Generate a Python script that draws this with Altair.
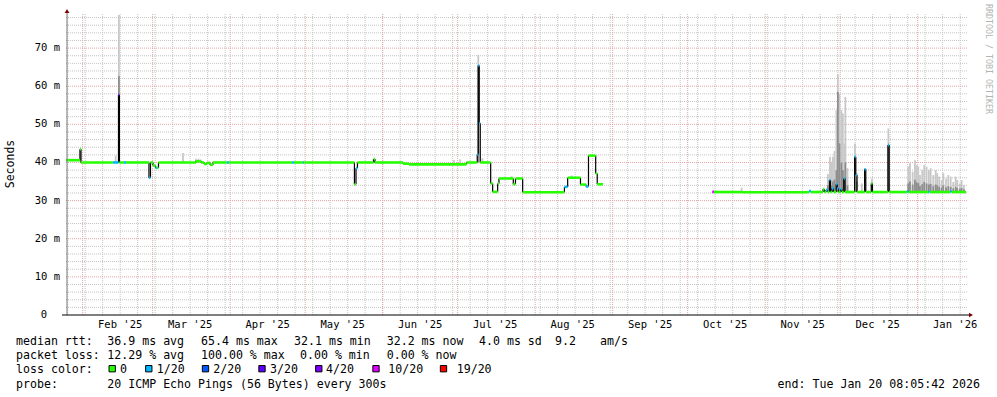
import altair as alt
import pandas as pd

# ---------------- data ----------------
START = alt.DateTime(year=2025, month=1, date=25, hours=8, minutes=5, seconds=42)
END = alt.DateTime(year=2026, month=1, date=20, hours=8, minutes=5, seconds=42)
Y_MAX = 79.2

# median rtt (ms) step breakpoints, loss bucket index
med_dates = [
    "2025-01-25T08:05", "2025-01-30T22:00", "2025-01-31T08:00", "2025-02-13T03:00", "2025-02-15T08:00", "2025-02-15T17:00",
    "2025-02-17T12:30", "2025-02-18T08:00", "2025-02-27T12:30", "2025-02-28T03:00", "2025-03-01T03:00", "2025-03-02T03:00",
    "2025-03-02T17:00", "2025-03-03T08:00", "2025-03-18T08:00", "2025-03-20T08:00", "2025-03-21T12:30", "2025-03-22T17:00",
    "2025-03-23T22:00", "2025-03-25T03:00", "2025-03-30T17:00", "2025-03-31T12:30", "2025-04-25T17:00", "2025-04-26T12:30",
    "2025-04-30T03:00", "2025-04-30T17:00", "2025-05-20T17:00", "2025-05-21T08:00", "2025-05-21T22:00", "2025-05-28T08:00",
    "2025-05-28T22:00", "2025-06-09T03:00", "2025-06-11T12:30", "2025-07-04T12:30", "2025-07-08T20:00", "2025-07-09T06:00",
    "2025-07-09T15:00", "2025-07-10T01:00", "2025-07-14T05:00", "2025-07-15T00:00", "2025-07-17T00:00", "2025-07-17T12:30",
    "2025-07-23T06:00", "2025-07-24T03:00", "2025-07-27T00:00", "2025-08-12T17:00", "2025-08-14T00:00", "2025-08-19T03:00",
    "2025-08-21T08:00", "2025-08-22T08:00", "2025-08-25T05:00", "2025-08-25T20:00", "2025-08-28T03:00",
    "2025-10-10T20:00", "2025-10-11T12:30", "2025-10-22T17:00", "2025-11-18T12:30", "2025-11-19T08:00", "2025-11-24T03:00",
    "2025-11-24T17:00", "2025-11-25T08:00", "2025-11-25T22:00", "2025-11-26T17:00", "2025-11-27T03:00", "2025-11-27T17:00",
    "2025-11-28T08:00", "2025-11-29T09:30", "2025-11-29T20:00", "2025-11-30T08:00", "2025-12-01T05:00", "2025-12-01T17:00",
    "2025-12-02T10:30", "2025-12-02T22:00", "2025-12-06T19:00", "2025-12-07T06:00", "2025-12-07T17:00", "2025-12-10T19:00",
    "2025-12-11T06:00", "2025-12-13T10:30", "2025-12-13T22:00", "2025-12-20T03:00", "2025-12-20T14:30", "2025-12-27T17:00",
    "2025-12-28T08:00", "2026-01-05T03:00", "2026-01-05T17:00", "2026-01-13T22:00", "2026-01-14T12:30", "2026-01-20T08:05",
]
med_values = [
    40.6, 43.5, 40.0, 40.0, 57.7, 40.0,
    40.0, 40.0, 36.0, 40.0, 39.2, 38.6,
    38.6, 40.0, 40.3, 40.0, 39.6, 39.9,
    39.4, 40.0, 40.0, 40.0, 40.0, 40.0,
    40.0, 40.0, 34.3, 38.5, 40.0, 40.9,
    40.0, 39.7, 39.5, 40.0, 42.1, 65.4,
    50.3, 40.0, 34.5, 32.3, 34.5, 35.8,
    34.3, 35.8, 32.2, 33.6, 36.0, 34.2,
    33.7, 41.8, 37.1, 34.3, None,
    32.3, 32.25, 32.2, 32.5, 32.25, 33.0,
    32.25, 32.8, 32.25, 35.4, 32.25, 33.2,
    32.25, 34.3, 33.2, 32.25, 33.0, 32.25,
    35.8, 32.25, 41.5, 36.7, 32.25, 38.2,
    32.25, 34.5, 32.25, 44.6, 32.25, 32.4,
    32.25, 32.3, 32.25, 32.4, 32.25, 32.25,
]
med_loss = [
    0, 0, 0, 1, 3, 0,
    1, 0, 1, 0, 0, 1,
    0, 0, 0, 0, 0, 0,
    0, 0, 1, 0, 1, 0,
    1, 0, 0, 1, 0, 0,
    0, 0, 0, 0, 1, 1,
    1, 0, 0, 0, 0, 0,
    0, 0, 0, 1, 0, 0,
    1, 0, 0, 0, 0,
    5, 0, 0, 1, 0, 0,
    0, 1, 0, 1, 0, 1,
    0, 1, 1, 0, 1, 0,
    1, 0, 1, 1, 0, 1,
    0, 0, 0, 1, 0, 1,
    0, 1, 0, 1, 0, 0,
]

# smoke (spread of the 20 pings): date, low, high, dense core top
smoke_dates = [
    "2025-02-14T05:00", "2025-02-15T12:00", "2025-03-13T03:00", "2025-03-18T08:00", "2025-03-19T08:00", "2025-03-20T08:00",
    "2025-06-29T12:00", "2025-07-02T00:00", "2025-07-09T06:00", "2025-07-10T22:00", "2025-07-22T14:00", "2025-08-15T14:00",
    "2025-10-22T14:00", "2025-11-26T02:00", "2025-11-26T22:00", "2025-11-27T12:00", "2025-11-28T02:00", "2025-11-28T17:00",
    "2025-11-29T12:00", "2025-11-30T02:00", "2025-11-30T17:00", "2025-12-01T12:00", "2025-12-02T02:00", "2025-12-02T17:00",
    "2025-12-03T02:00", "2025-12-03T22:00", "2025-12-06T22:00", "2025-12-07T17:00", "2025-12-09T17:00", "2025-12-10T22:00",
    "2025-12-13T17:00", "2025-12-20T07:00",
    "2025-12-28T06:00", "2025-12-28T22:00", "2025-12-30T00:00", "2025-12-30T22:00", "2025-12-31T14:00", "2026-01-01T06:00",
    "2026-01-01T22:00", "2026-01-02T20:00", "2026-01-03T15:00", "2026-01-04T14:00", "2026-01-05T12:00", "2026-01-06T05:00",
    "2026-01-07T06:00", "2026-01-08T05:00", "2026-01-08T20:00", "2026-01-09T15:00", "2026-01-10T14:00", "2026-01-11T06:00",
    "2026-01-12T08:00", "2026-01-13T06:00", "2026-01-14T05:00", "2026-01-15T06:00", "2026-01-16T05:00", "2026-01-16T20:00",
    "2026-01-17T22:00", "2026-01-18T14:00", "2026-01-19T12:00",
]
smoke_lo = [
    40.0, 40.0, 40.0, 40.0, 40.0, 40.0,
    39.5, 39.5, 40.0, 40.0, 35.8, 36.0,
    32.25, 32.3, 32.3, 32.3, 32.3, 32.3,
    32.3, 32.3, 32.3, 32.3, 32.3, 32.3,
    32.3, 32.3, 32.3, 32.3, 32.3, 32.3,
    32.3, 32.3,
    32.3, 32.3, 32.3, 32.3, 32.3, 32.3,
    32.3, 32.3, 32.3, 32.3, 32.3, 32.3,
    32.3, 32.3, 32.3, 32.3, 32.3, 32.3,
    32.3, 32.3, 32.3, 32.3, 32.3, 32.3,
    32.3, 32.3, 32.3,
]
smoke_hi = [
    41.8, 78.7, 42.5, 41.0, 41.0, 40.8,
    40.6, 40.8, 68.2, 41.1, 36.4, 36.6,
    33.4, 37.0, 41.5, 40.2, 41.5, 43.0,
    53.7, 63.2, 58.0, 53.7, 52.9, 45.0,
    57.2, 38.5, 45.0, 37.2, 34.5, 38.5,
    35.8, 48.9,
    38.9, 39.8, 37.6, 40.6, 39.3, 38.9,
    36.7, 38.0, 39.3, 38.9, 38.0, 38.5,
    36.7, 38.0, 37.2, 36.3, 35.4, 37.2,
    35.8, 36.7, 36.3, 34.9, 36.3, 35.4,
    34.5, 35.4, 34.1,
]
smoke_core = [
    40.0, 62.7, 40.0, 40.6, 40.6, 40.4,
    39.5, 39.5, 65.4, 40.0, 35.8, 36.0,
    32.25, 34.0, 35.0, 34.0, 35.0, 35.5,
    38.0, 58.5, 45.0, 40.0, 38.0, 36.0,
    40.0, 34.0, 40.0, 35.0, 32.3, 36.0,
    34.0, 44.0,
    34.5, 35.0, 34.2, 35.5, 34.8, 34.6,
    33.8, 34.3, 34.9, 34.5, 34.2, 34.4,
    33.8, 34.2, 34.0, 33.6, 33.4, 34.0,
    33.5, 33.8, 33.6, 33.2, 33.6, 33.3,
    33.1, 33.3, 33.0,
]

loss_labels = ["0", "1/20", "2/20", "3/20", "4/20", "10/20", "19/20"]
loss_colors = ["#26ff00", "#00b8ff", "#0059ff", "#5e00ff", "#7e00ff", "#dd00ff", "#ff0000"]

y_tick_values = [0, 10, 20, 30, 40, 50, 60, 70]
y_tick_labels = ["0", "10 m", "20 m", "30 m", "40 m", "50 m", "60 m", "70 m"]

month_starts = ["2025-02-01", "2025-03-01", "2025-04-01", "2025-05-01", "2025-06-01", "2025-07-01",
                "2025-08-01", "2025-09-01", "2025-10-01", "2025-11-01", "2025-12-01", "2026-01-01"]
month_label_dates = ["2025-02-16", "2025-03-16", "2025-04-16", "2025-05-16", "2025-06-16", "2025-07-16",
                     "2025-08-16", "2025-09-16", "2025-10-16", "2025-11-16", "2025-12-16", "2026-01-16"]
month_labels = ["Feb '25", "Mar '25", "Apr '25", "May '25", "Jun '25", "Jul '25",
                "Aug '25", "Sep '25", "Oct '25", "Nov '25", "Dec '25", "Jan '26"]

legend_text = [
    "median rtt:", "36.9 ms avg", "65.4 ms max", "32.1 ms min", "32.2 ms now", "4.0 ms sd", "9.2", "am/s",
    "packet loss:", "12.29 % avg", "100.00 % max", "0.00 % min", "0.00 % now",
    "loss color:",
    "probe:", "20 ICMP Echo Pings (56 Bytes) every 300s",
]
end_text = "end: Tue Jan 20 08:05:42 2026"

# ---------------- layout (pixels) ----------------
PL, PT, W, H = 66, 13, 900, 302
MONO = "DejaVu Sans Mono"
y_label_right_abs = [47, 60, 60, 60, 60, 60, 60, 60]
leg_x_abs = [16, 107.3, 201, 294, 386.7, 479, 555, 600,
             16, 107.3, 201, 300, 386.7,
             16,
             16, 107.3]
row_base_abs = [344.5, 358.5, 372.5, 387.5]
leg_row = [0, 0, 0, 0, 0, 0, 0, 0, 1, 1, 1, 1, 1, 2, 3, 3]
sq_x_abs = [112.2, 148.8, 205.5, 262, 318.8, 376, 443.5]
lab_x_abs = [120, 156.7, 213.3, 270, 326, 388.3, 456.7]

# ---------------- frames ----------------
med = pd.DataFrame({"t": pd.to_datetime(med_dates), "v": med_values, "loss": med_loss})
med["c"] = [loss_colors[i] for i in med["loss"]]
med["t2"] = med["t"].shift(-1)
med["prev"] = med["v"].shift(1)
seg = med.dropna(subset=["v", "t2"])[["t", "t2", "v", "c"]]
vert = med.dropna(subset=["v", "prev"])
vert = vert[vert["v"] != vert["prev"]][["t", "v", "prev"]]

smoke = pd.DataFrame({"t": pd.to_datetime(smoke_dates), "lo": smoke_lo, "hi": smoke_hi, "core": smoke_core})
smoke_core_df = smoke[smoke["core"] > smoke["lo"]]

weeks = pd.DataFrame({"t": pd.date_range("2025-01-26", "2026-01-18", freq="7D")})
weeks["lo"] = 0.0
weeks["hi"] = Y_MAX
months = pd.DataFrame({"t": pd.to_datetime(month_starts)})
months["lo"] = 0.0
months["hi"] = Y_MAX
mlabels = pd.DataFrame({"t": pd.to_datetime(month_label_dates), "lab": month_labels})
minor_y = pd.DataFrame({"v": [v for v in range(2, 80, 2) if v % 10 != 0]})
major_y = pd.DataFrame({"v": list(range(10, 80, 10))})
yt = pd.DataFrame({"v": y_tick_values, "lab": y_tick_labels, "px": [x - PL for x in y_label_right_abs]})

leg = pd.DataFrame({"text": legend_text,
                    "px": [x - PL for x in leg_x_abs],
                    "py": [row_base_abs[r] - PT for r in leg_row]})
sq = pd.DataFrame({"px": [x - PL for x in sq_x_abs], "c": loss_colors})
sql = pd.DataFrame({"px": [x - PL for x in lab_x_abs], "text": loss_labels})
one = pd.DataFrame({"a": [0]})

xs = alt.Scale(domain=[START, END])
ys = alt.Scale(domain=[0, Y_MAX])


def X(f="t"):
    return alt.X(f"{f}:T", scale=xs, axis=None)


def Y(f="v"):
    return alt.Y(f"{f}:Q", scale=ys, axis=None)


MINOR = "#c4c4c4"
MAJOR = "#e2a4a4"

g_hmin = alt.Chart(minor_y).mark_rule(color=MINOR, strokeDash=[1, 1], strokeWidth=1).encode(
    y=Y("v"), x=alt.value(0), x2=alt.value(W + 2))
g_vwk = alt.Chart(weeks).mark_rule(color=MINOR, strokeDash=[1, 1], strokeWidth=1).encode(
    x=X("t"), y=Y("lo"), y2=alt.Y2("hi"))
g_hmaj = alt.Chart(major_y).mark_rule(color=MAJOR, strokeDash=[1, 1], strokeWidth=1).encode(
    y=Y("v"), x=alt.value(0), x2=alt.value(W + 2))
g_vmon = alt.Chart(months).mark_rule(color=MAJOR, strokeDash=[1, 1], strokeWidth=1).encode(
    x=X("t"), y=Y("lo"), y2=alt.Y2("hi"))

sm_light = alt.Chart(smoke).mark_rule(color="#c8c8c8", strokeWidth=1.8).encode(
    x=X("t"), y=Y("lo"), y2=alt.Y2("hi"))
sm_core = alt.Chart(smoke_core_df).mark_rule(color="#8e8e8e", strokeWidth=1.8).encode(
    x=X("t"), y=Y("lo"), y2=alt.Y2("core"))

black = alt.Chart(vert).mark_rule(color="#000000", strokeWidth=1.2).encode(
    x=X("t"), y=Y("prev"), y2=alt.Y2("v"))
colored = alt.Chart(seg).mark_rule(strokeWidth=2.6).encode(
    x=X("t"), x2=alt.X2("t2"), y=Y("v"), color=alt.Color("c:N", scale=None))

yaxis = alt.Chart(one).mark_rule(color="#7a7a7a", strokeWidth=1).encode(
    x=alt.value(1), y=alt.value(-1), y2=alt.value(H))
xaxis = alt.Chart(one).mark_rule(color="#000000", strokeWidth=1).encode(
    x=alt.value(-4), x2=alt.value(W + 3), y=alt.value(H))
arrow_up = alt.Chart(one).mark_point(shape="triangle-up", filled=True, color="#7f0000", size=22, opacity=1).encode(
    x=alt.value(1), y=alt.value(-2))
arrow_rt = alt.Chart(one).mark_point(shape="triangle-right", filled=True, color="#7f0000", size=22, opacity=1).encode(
    x=alt.value(W + 5), y=alt.value(H))

ylab = alt.Chart(yt).mark_text(align="right", baseline="middle", font=MONO, fontSize=10.5, color="#000").encode(
    y=Y("v"), x=alt.X("px:Q", scale=None), text="lab:N")
xlab = alt.Chart(mlabels).mark_text(align="center", baseline="middle", font=MONO, fontSize=10.5, color="#000").encode(
    x=X("t"), y=alt.value(312), text="lab:N")

ytitle = alt.Chart(one).mark_text(text="Seconds", angle=270, align="center", baseline="middle",
                                  font=MONO, fontSize=11.5, color="#000").encode(
    x=alt.value(11 - PL), y=alt.value(164 - PT))
credit = alt.Chart(one).mark_text(text="RRDTOOL / TOBI OETIKER", angle=90, align="center", baseline="middle",
                                  font=MONO, fontSize=8.3, color="#b4b4b4").encode(
    x=alt.value(988 - PL), y=alt.value(59 - PT))

legend = alt.Chart(leg).mark_text(align="left", baseline="alphabetic", font=MONO, fontSize=11.6, color="#000").encode(
    x=alt.X("px:Q", scale=None), y=alt.Y("py:Q", scale=None), text="text:N")
legend_sq = alt.Chart(sq).mark_square(size=40, filled=True, stroke="#000", strokeWidth=1, opacity=1).encode(
    x=alt.X("px:Q", scale=None), y=alt.value(368.7 - PT), fill=alt.Color("c:N", scale=None))
legend_sql = alt.Chart(sql).mark_text(align="left", baseline="alphabetic", font=MONO, fontSize=11.6, color="#000").encode(
    x=alt.X("px:Q", scale=None), y=alt.value(row_base_abs[2] - PT), text="text:N")
end_lbl = alt.Chart(one).mark_text(text=end_text, align="right", baseline="alphabetic", font=MONO,
                                   fontSize=11.6, color="#000").encode(
    x=alt.value(980 - PL), y=alt.value(row_base_abs[3] - PT))

chart = alt.layer(
    g_hmin, g_vwk, g_hmaj, g_vmon,
    sm_light, sm_core, black, colored,
    yaxis, xaxis, arrow_up, arrow_rt,
    ylab, xlab, ytitle, credit, legend, legend_sq, legend_sql, end_lbl,
).properties(
    width=W, height=H,
    padding={"left": PL, "top": PT, "right": 997 - PL - W, "bottom": 397 - PT - H},
    autosize=alt.AutoSizeParams(type="none"),
    background="#ffffff",
).configure_view(stroke=None)

chart.save("out.html", embed_options={"renderer": "svg", "actions": False})
